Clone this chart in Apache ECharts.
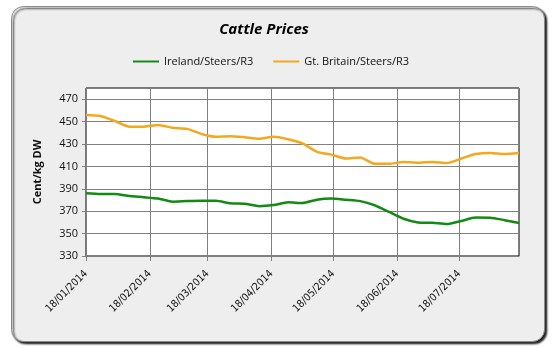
<!DOCTYPE html>
<html>
<head>
<meta charset="utf-8">
<script src="https://cdn.jsdelivr.net/npm/echarts@6/dist/echarts.min.js"></script>
<style>
html,body{margin:0;padding:0;background:#ffffff;}
#chart{width:557px;height:348px;}
</style>
</head>
<body>
<div id="chart"></div>
<script>
const dates = [
  '2014-01-18','2014-01-25','2014-02-01','2014-02-08','2014-02-15','2014-02-22',
  '2014-03-01','2014-03-08','2014-03-15','2014-03-22','2014-03-29','2014-04-05',
  '2014-04-12','2014-04-19','2014-04-26','2014-05-03','2014-05-10','2014-05-17',
  '2014-05-24','2014-05-31','2014-06-07','2014-06-14','2014-06-21','2014-06-28',
  '2014-07-05','2014-07-12','2014-07-19','2014-07-26','2014-08-02','2014-08-09',
  '2014-08-16'
];
const ireland = [
  386, 385.3, 385.3, 383.5, 382.5, 381.3, 378.5, 379, 379.3, 379.3,
  377, 376.6, 374.5, 375.5, 378, 377.3, 380.3, 381.3, 380.2, 379,
  375.3, 369.3, 363.3, 360, 359.7, 358.5, 361.3, 364.3, 364.2, 362,
  359.5
];
const britain = [
  456, 455, 450.5, 445.5, 445.5, 447, 444.5, 443.5, 439, 436.5,
  437, 436, 434.7, 436.4, 434.2, 430.5, 423, 420.5, 417, 418,
  412.3, 412.3, 414, 413.3, 414, 413, 417, 421, 422, 421,
  422
];
const tickDates = ['2014-01-18','2014-02-18','2014-03-18','2014-04-18','2014-05-18','2014-06-18','2014-07-18'];
const seriesNames = ['Ireland/Steers/R3', 'Gt. Britain/Steers/R3'];

const toTs = s => { const p = s.split('-'); return new Date(+p[0], +p[1]-1, +p[2]).getTime(); };
const fmt = v => { const d = new Date(v); const pad = n => (n < 10 ? '0' : '') + n; return pad(d.getDate()) + '/' + pad(d.getMonth()+1) + '/' + d.getFullYear(); };
const tickTs = tickDates.map(toTs);
const font = 'Open Sans';
const narrow = '"Liberation Sans Narrow", "DejaVu Sans Condensed", "Open Sans", sans-serif';

const chart = echarts.init(document.getElementById('chart'), null, {renderer: 'canvas'});
chart.setOption({
  animation: false,
  backgroundColor: '#ffffff',
  graphic: [{
    type: 'rect', z: -10, silent: true,
    shape: {x: 11.5, y: 6.5, width: 533, height: 335, r: 12},
    style: {fill: '#eeeeee', stroke: '#8a8a8a', lineWidth: 1,
            shadowBlur: 2, shadowOffsetX: 2, shadowOffsetY: 2, shadowColor: 'rgba(0,0,0,0.9)'}
  }],
  title: {
    text: 'Cattle Prices', left: 259, top: 17, textAlign: 'center',
    textStyle: {fontFamily: font, fontSize: 15, fontWeight: 'bold', fontStyle: 'italic', color: '#000'}
  },
  legend: {
    top: 51, left: 128,
    icon: 'rect', itemWidth: 26, itemHeight: 2, itemGap: 20,
    textStyle: {fontFamily: font, fontSize: 11, color: '#111'},
    data: seriesNames
  },
  grid: {left: 86, top: 88, width: 433, height: 168, show: true,
         backgroundColor: '#ffffff', borderColor: '#000', borderWidth: 1},
  xAxis: {
    type: 'value', scale: true,
    min: toTs(dates[0]), max: toTs(dates[dates.length-1]),
    axisLine: {show: true, onZero: false, lineStyle: {color: '#808080'}},
    axisTick: {show: true, length: 5, customValues: tickTs, lineStyle: {color: '#808080'}},
    axisLabel: {customValues: tickTs, rotate: 45, formatter: fmt, margin: 16,
                fontFamily: narrow, fontSize: 10.5, color: '#111'},
    splitLine: {show: false}
  },
  yAxis: {
    type: 'value', min: 330, max: 480, interval: 20,
    name: 'Cent/kg DW', nameLocation: 'middle', nameRotate: 90, nameGap: 43,
    nameTextStyle: {fontFamily: font, fontSize: 11, fontWeight: 'bold', color: '#111'},
    axisLine: {show: true, lineStyle: {color: '#808080'}},
    axisTick: {show: true, length: 4, inside: false, lineStyle: {color: '#808080'}},
    axisLabel: {showMaxLabel: false, margin: 8, fontFamily: font, fontSize: 11, color: '#111'},
    splitLine: {show: true, lineStyle: {color: '#808080', width: 1}}
  },
  series: [
    {
      name: seriesNames[0], type: 'line', showSymbol: false, smooth: 0.2,
      data: dates.map((d, i) => [toTs(d), ireland[i]]),
      lineStyle: {color: '#148a14', width: 2.5}, itemStyle: {color: '#148a14'},
      markLine: {
        silent: true, symbol: 'none', label: {show: false}, z: 1,
        lineStyle: {color: '#808080', width: 1, type: 'solid'},
        data: tickTs.slice(1).map(t => ({xAxis: t}))
      }
    },
    {
      name: seriesNames[1], type: 'line', showSymbol: false, smooth: 0.2,
      data: dates.map((d, i) => [toTs(d), britain[i]]),
      lineStyle: {color: '#f3a81f', width: 2.5}, itemStyle: {color: '#f3a81f'}
    }
  ]
});
</script>
</body>
</html>
